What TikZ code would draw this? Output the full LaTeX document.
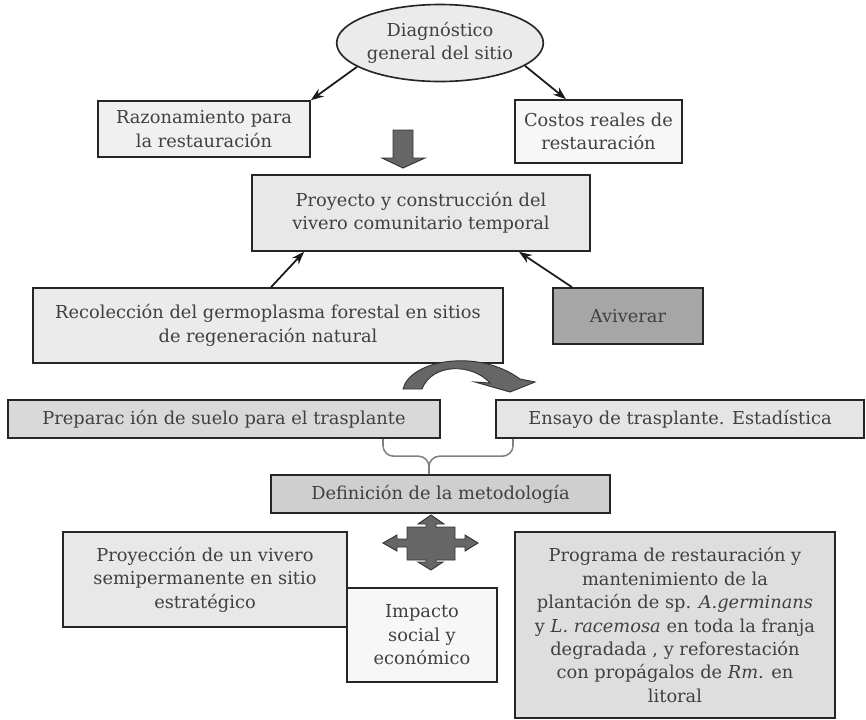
\documentclass[tikz,border=0pt]{standalone}
\usepackage{fontspec}
\setmainfont{DejaVu Serif}
\usetikzlibrary{arrows.meta,calc,shapes.geometric}

\begin{document}
\begin{tikzpicture}[x=0.03cm,y=-0.03cm,
  caja/.style={draw=black!85,line width=1.4pt,align=center,text=black!75,inner sep=2pt},
  flecha/.style={-{Stealth[length=11pt,width=8pt]},line width=1.5pt,black!90},
  bloque/.style={fill=black!60,draw=black!80,line width=0.8pt},
  llave/.style={draw=black!50,line width=1.3pt,rounded corners=9pt}]
\tikzstyle{every node}+=[font=\fontsize{15.2}{20}\selectfont]
\useasboundingbox (0,0) rectangle (866,719);
% nivel superior
\node [caja,ellipse,fill=black!8,minimum width=5.7cm,minimum height=2.31cm,inner sep=0pt] (diag) at (440,43) {Diagnóstico\\general del sitio};
\node [caja,fill=black!6,minimum width=6.36cm,minimum height=1.68cm] (razon) at (204,129) {Razonamiento para\\la restauración};
\node [caja,fill=black!3,minimum width=5.01cm,minimum height=1.89cm] (costos) at (598.5,131.5) {Costos reales de\\restauración};
\draw [flecha] (diag.196) -- (razon.north east);
\draw [flecha] (diag.345) -- ($(costos.north)+(-32.5,0)$);
\draw [bloque] (393,130) -- (413,130) -- (413,158) -- (425,158) -- (403,168) -- (382,158) -- (393,158) -- cycle;
% vivero
\node [caja,fill=black!9,minimum width=10.14cm,minimum height=2.28cm] (proyecto) at (421,213) {Proyecto y construcción del\\vivero comunitario temporal};
\node [caja,fill=black!8,minimum width=14.1cm,minimum height=2.25cm] (recol) at (268,325.5) {Recolección del germoplasma forestal en sitios\\de regeneración natural};
\node [caja,fill=black!35,minimum width=4.5cm,minimum height=1.68cm] (aviv) at (628,316) {Aviverar};
\draw [flecha] ($(recol.north)+(3,0)$) -- ($(proyecto.south)+(-117,0)$);
\draw [flecha] ($(aviv.north)+(-56,0)$) -- ($(proyecto.south)+(98,0)$);
\draw [bloque] (403,389) .. controls (410,360) and (478,348) .. (520,379) -- (535,382) -- (510,392) -- (475,382) -- (490,383) .. controls (472,363) and (432,363) .. (422,389) -- cycle;
% trasplante
\node [caja,fill=black!15,minimum width=12.96cm,minimum height=1.14cm] (prep) at (224,419) {Preparac ión de suelo para el trasplante};
\node [caja,fill=black!10,minimum width=11.04cm,minimum height=1.14cm] (ensayo) at (680,419) {Ensayo de trasplante. Estadística};
\node [caja,fill=black!19,minimum width=10.17cm,minimum height=1.14cm] (defin) at (440.5,494) {Definición de la metodología};
\coordinate (medio) at ($(defin.north)+(-11.5,-18)$);
\draw [llave] ($(prep.south)+(159,0)$) |- (medio) -- ($(defin.north)+(-11.5,0)$);
\draw [llave] ($(ensayo.south)+(-167,0)$) |- (medio) -- ($(defin.north)+(-11.5,0)$);
% cruz de flechas
\draw [bloque] (407,527) -- (426,527) -- (426,524) -- (418,524) -- (431,515) -- (444,524) -- (436,524) -- (436,527)
  -- (455,527) -- (455,539) -- (465,539) -- (465,535) -- (478,543) -- (465,551) -- (465,547) -- (455,547)
  -- (455,560) -- (436,560) -- (436,562) -- (443,562) -- (431,570) -- (418,562) -- (426,562) -- (426,560)
  -- (407,560) -- (407,547) -- (397,547) -- (397,551) -- (383,543) -- (397,535) -- (397,539) -- (407,539) -- cycle;
% resultados
\node [caja,fill=black!9,minimum width=8.52cm,minimum height=2.85cm] (proyeccion) at (205,579.5) {Proyección de un vivero\\semipermanente en sitio\\estratégico};
\node [caja,fill=black!3,minimum width=4.5cm,minimum height=2.82cm] (impacto) at (422,635) {Impacto\\social y\\económico};
\node [caja,fill=black!13,minimum width=9.6cm,minimum height=5.58cm] (programa) at (675,625) {Programa de restauración y\\mantenimiento de la\\plantación de sp. \textit{A.germinans}\\y \textit{L. racemosa} en toda la franja\\degradada , y reforestación\\con propágalos de \textit{Rm}. en\\litoral};
\end{tikzpicture}
\end{document}
